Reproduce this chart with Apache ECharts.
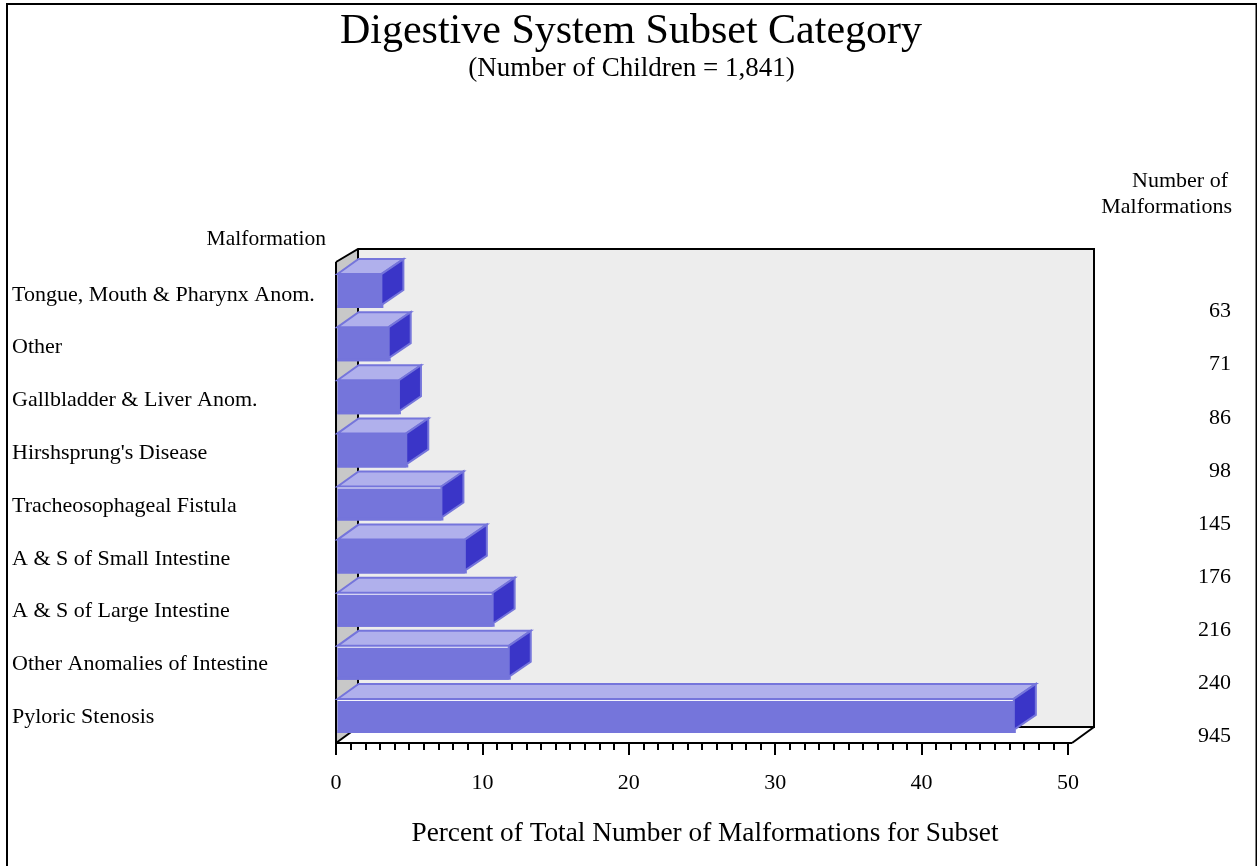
<!DOCTYPE html>
<html>
<head>
<meta charset="utf-8">
<style>html,body{margin:0;padding:0;background:#fff}#chart{width:1257px;height:866px}</style>
<script src="https://cdn.jsdelivr.net/npm/echarts@6/dist/echarts.min.js"></script>
</head>
<body>
<div id="chart"></div>
<script>
const malformations = ['Tongue, Mouth & Pharynx Anom.', 'Other', 'Gallbladder & Liver Anom.', "Hirshsprung's Disease", 'Tracheosophageal Fistula', 'A & S of Small Intestine', 'A & S of Large Intestine', 'Other Anomalies of Intestine', 'Pyloric Stenosis'];
const percents = [3.1, 3.6, 4.3, 4.8, 7.2, 8.8, 10.7, 11.8, 46.3];
const counts = ['63', '71', '86', '98', '145', '176', '216', '240', '945'];
const percentTicks = { min: 0, max: 50, interval: 10 };
// Rows whose top face is separated from the front face by a thin light seam
const seamRows = [4, 6, 7, 8];

const SERIF = '"Liberation Serif", "Times New Roman", serif';
const DEPTH_X = 22, DEPTH_Y = 16;
const BAR_H = 34, SIDE_H = 31;
const FRONT = '#7575db', TOP = '#b0b0ec', SIDE = '#3a35c8';

const chart = echarts.init(document.getElementById('chart'), null, { renderer: 'canvas' });

function line(pts, width) {
  return { type: 'polyline', shape: { points: pts }, style: { stroke: '#000', lineWidth: width || 2, fill: null } };
}

// Box walls of the pseudo-3D plot area, placed from the axis extents
function renderWalls(params, api) {
  const x0 = api.coord([0, 8])[0];
  const yB = params.coordSys.y + params.coordSys.height;
  const xR = params.coordSys.x + params.coordSys.width + 4;
  const yT = params.coordSys.y - 3;
  const backTop = 249, backL = x0 + DEPTH_X, backR = xR + DEPTH_X, backB = yB - DEPTH_Y;
  return {
    type: 'group',
    children: [
      { type: 'polygon', shape: { points: [[backL, backTop], [backR, backTop], [backR, backB], [backL, backB]] }, style: { fill: '#ededed' } },
      { type: 'polygon', shape: { points: [[x0, yT], [backL, backTop], [backL, backB], [x0, yB]] }, style: { fill: '#c8c8c8' } },
      line([[x0, yT], [backL, backTop], [backR, backTop], [backR, backB], [backL, backB]]),
      line([[backL, backTop], [backL, backB]]),
      line([[x0, yB], [backL, backB]]),
      line([[xR, yB], [backR, backB]]),
      line([[x0, yT], [x0, yB]]),
      line([[x0, yB], [xR, yB]])
    ]
  };
}

// One extruded bar: lit top face, dark end face and front face
function renderBar(params, api) {
  const row = api.value(1);
  const end = api.coord([api.value(0), row]);
  const start = api.coord([0, row]);
  const xa = start[0] + 1.5, xb = end[0];
  const yB = end[1] + 16.5;
  const yF = yB - BAR_H;
  const hasSeam = seamRows.indexOf(row) >= 0;
  const faceLine = { stroke: FRONT, lineWidth: 2, lineJoin: 'miter' };
  const children = [
    { type: 'polygon', shape: { points: [[xa, yF], [xa + DEPTH_X - 1, yF - DEPTH_Y + 1], [xb + DEPTH_X, yF - DEPTH_Y + 1], [xb, yF]] }, style: Object.assign({ fill: TOP }, faceLine) },
    { type: 'polygon', shape: { points: [[xb, yF], [xb + DEPTH_X, yF - DEPTH_Y + 1], [xb + DEPTH_X, yF - DEPTH_Y + 1 + SIDE_H], [xb, yF + SIDE_H]] }, style: Object.assign({ fill: SIDE }, faceLine) },
    { type: 'rect', shape: { x: xa, y: yF, width: xb - xa, height: BAR_H }, style: { fill: FRONT } },
    { type: 'rect', shape: { x: xa, y: yB - 3, width: xb - xa + 2, height: 3 }, style: { fill: FRONT } }
  ];
  if (hasSeam) {
    children.push({ type: 'rect', shape: { x: xa, y: yF + 1, width: xb - xa - 1, height: 1 }, style: { fill: '#f4f4fb' } });
  }
  return { type: 'group', children };
}

// Label-only cartesian frames share the same hidden x axis settings
const hiddenX = i => ({ type: 'value', gridIndex: i, min: 0, max: 50, show: false });
const labelStyle = { fontFamily: SERIF, fontSize: 22, color: '#000' };

chart.setOption({
  animation: false,
  backgroundColor: '#fff',
  title: [
    { text: 'Digestive System Subset Category', left: 626, textAlign: 'center', top: 6, textStyle: { fontFamily: SERIF, fontSize: 42, fontWeight: 'normal', color: '#000' } },
    { text: '(Number of Children = 1,841)', left: 626.5, textAlign: 'center', top: 50, textStyle: { fontFamily: SERIF, fontSize: 27, fontWeight: 'normal', color: '#000' } }
  ],
  grid: [
    { left: 336, top: 265, width: 732, height: 478 },
    { left: 336, top: 268.5, width: 732, height: 475 },
    { left: 336, top: 285, width: 732, height: 478 }
  ],
  xAxis: [
    {
      type: 'value', gridIndex: 0, min: percentTicks.min, max: percentTicks.max, interval: percentTicks.interval,
      splitLine: { show: false },
      axisLine: { show: false },
      axisTick: { show: true, inside: false, length: 12, lineStyle: { color: '#000', width: 2 } },
      minorTick: { show: true, splitNumber: 10, length: 7, lineStyle: { color: '#000', width: 2 } },
      axisLabel: Object.assign({ margin: 29 }, labelStyle),
      name: 'Percent of Total Number of Malformations for Subset',
      nameLocation: 'middle',
      nameGap: 77,
      nameTextStyle: { fontFamily: SERIF, fontSize: 27.3, color: '#000', padding: [0, 0, 0, 6] }
    },
    hiddenX(1),
    hiddenX(2)
  ],
  yAxis: [
    { type: 'category', gridIndex: 0, inverse: true, data: malformations, show: false },
    {
      type: 'category', gridIndex: 1, inverse: true, data: malformations,
      axisLine: { show: false }, axisTick: { show: false },
      axisLabel: Object.assign({ align: 'left', margin: 324, interval: 0 }, labelStyle)
    },
    {
      type: 'category', gridIndex: 2, inverse: true, position: 'right', data: counts,
      axisLine: { show: false }, axisTick: { show: false },
      axisLabel: Object.assign({ align: 'right', margin: 163, interval: 0 }, labelStyle)
    }
  ],
  series: [
    {
      type: 'custom', xAxisIndex: 0, yAxisIndex: 0, clip: false, z: 1,
      data: [[0, 0]], renderItem: renderWalls, silent: true
    },
    {
      type: 'custom', xAxisIndex: 0, yAxisIndex: 0, clip: false, z: 3,
      encode: { x: 0, y: 1 },
      data: percents.map((v, i) => [v, i]),
      renderItem: renderBar
    }
  ],
  graphic: [
    { type: 'polyline', z: 10, shape: { points: [[7, 866], [7, 4], [1256.5, 4], [1256.5, 866]] }, style: { stroke: '#000', lineWidth: 2, fill: null } },
    { type: 'text', x: 326, y: 239, style: { text: 'Malformation', align: 'right', verticalAlign: 'middle', font: '21.5px ' + SERIF, fill: '#000' } },
    { type: 'text', x: 1228, y: 181, style: { text: 'Number of', align: 'right', verticalAlign: 'middle', font: '22px ' + SERIF, fill: '#000' } },
    { type: 'text', x: 1232, y: 207, style: { text: 'Malformations', align: 'right', verticalAlign: 'middle', font: '22px ' + SERIF, fill: '#000' } }
  ]
});
</script>
</body>
</html>
